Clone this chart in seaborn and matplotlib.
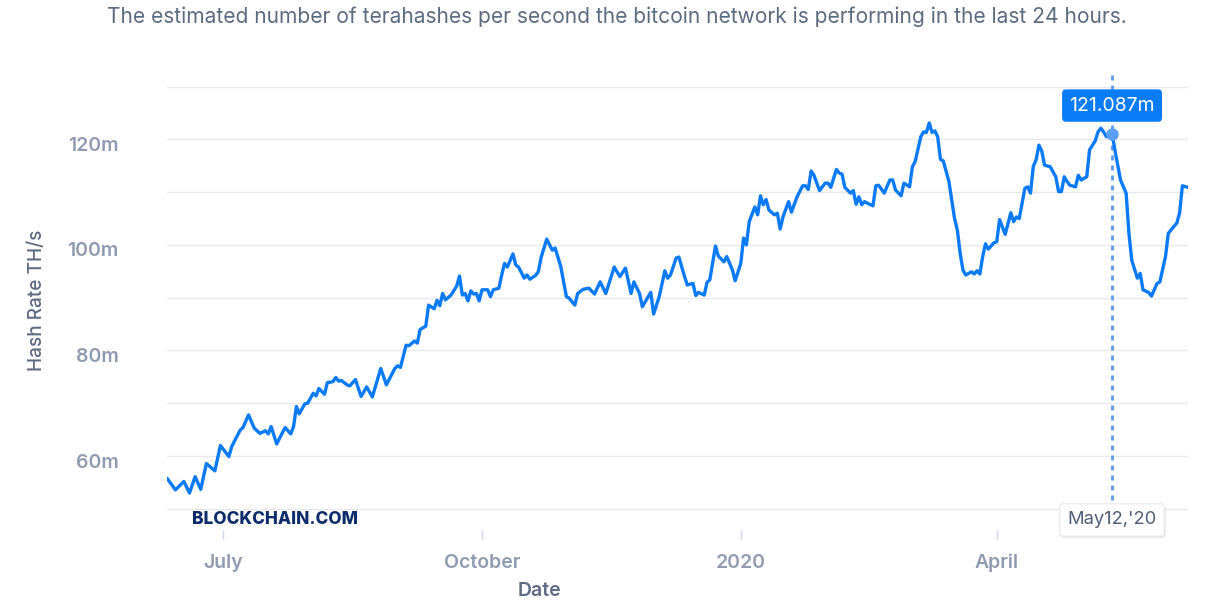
import pandas as pd
import matplotlib
matplotlib.use("Agg")
import matplotlib.pyplot as plt
import matplotlib.transforms as mtransforms
import matplotlib.patheffects as pe
import seaborn as sns

# daily hash rate readings (million TH/s)
dates = [
    "2019-06-11", "2019-06-14", "2019-06-17", "2019-06-19", "2019-06-21", "2019-06-23",
    "2019-06-25", "2019-06-28", "2019-06-30", "2019-07-03", "2019-07-04", "2019-07-07",
    "2019-07-08", "2019-07-10", "2019-07-12", "2019-07-14", "2019-07-16", "2019-07-17",
    "2019-07-18", "2019-07-20", "2019-07-22", "2019-07-23", "2019-07-25", "2019-07-26",
    "2019-07-27", "2019-07-28", "2019-07-30", "2019-07-31", "2019-08-02", "2019-08-03",
    "2019-08-04", "2019-08-06", "2019-08-07", "2019-08-09", "2019-08-10", "2019-08-11",
    "2019-08-12", "2019-08-14", "2019-08-15", "2019-08-17", "2019-08-19", "2019-08-21",
    "2019-08-23", "2019-08-26", "2019-08-28", "2019-08-31", "2019-09-01", "2019-09-02",
    "2019-09-04", "2019-09-05", "2019-09-07", "2019-09-08", "2019-09-09", "2019-09-11",
    "2019-09-12", "2019-09-14", "2019-09-15", "2019-09-16", "2019-09-17", "2019-09-18",
    "2019-09-20", "2019-09-22", "2019-09-23", "2019-09-24", "2019-09-25", "2019-09-26",
    "2019-09-27", "2019-09-28", "2019-09-29", "2019-09-30", "2019-10-01", "2019-10-03",
    "2019-10-04", "2019-10-05", "2019-10-07", "2019-10-08", "2019-10-09", "2019-10-10",
    "2019-10-12", "2019-10-13", "2019-10-14", "2019-10-16", "2019-10-17", "2019-10-18",
    "2019-10-20", "2019-10-21", "2019-10-22", "2019-10-24", "2019-10-26", "2019-10-27",
    "2019-10-29", "2019-10-31", "2019-11-01", "2019-11-03", "2019-11-04", "2019-11-06",
    "2019-11-08", "2019-11-10", "2019-11-12", "2019-11-14", "2019-11-17", "2019-11-19",
    "2019-11-21", "2019-11-23", "2019-11-24", "2019-11-26", "2019-11-27", "2019-11-30",
    "2019-12-01", "2019-12-03", "2019-12-05", "2019-12-06", "2019-12-07", "2019-12-09",
    "2019-12-10", "2019-12-12", "2019-12-13", "2019-12-15", "2019-12-16", "2019-12-17",
    "2019-12-19", "2019-12-20", "2019-12-21", "2019-12-23", "2019-12-24", "2019-12-26",
    "2019-12-27", "2019-12-29", "2019-12-30", "2020-01-01", "2020-01-02", "2020-01-03",
    "2020-01-04", "2020-01-06", "2020-01-07", "2020-01-08", "2020-01-09", "2020-01-10",
    "2020-01-11", "2020-01-13", "2020-01-14", "2020-01-15", "2020-01-16", "2020-01-18",
    "2020-01-19", "2020-01-21", "2020-01-23", "2020-01-24", "2020-01-25", "2020-01-26",
    "2020-01-27", "2020-01-29", "2020-01-31", "2020-02-01", "2020-02-02", "2020-02-04",
    "2020-02-05", "2020-02-06", "2020-02-07", "2020-02-09", "2020-02-10", "2020-02-11",
    "2020-02-12", "2020-02-13", "2020-02-14", "2020-02-15", "2020-02-17", "2020-02-18",
    "2020-02-19", "2020-02-21", "2020-02-23", "2020-02-24", "2020-02-25", "2020-02-27",
    "2020-02-28", "2020-03-01", "2020-03-02", "2020-03-03", "2020-03-05", "2020-03-06",
    "2020-03-07", "2020-03-08", "2020-03-09", "2020-03-10", "2020-03-11", "2020-03-12",
    "2020-03-13", "2020-03-15", "2020-03-17", "2020-03-18", "2020-03-19", "2020-03-20",
    "2020-03-21", "2020-03-23", "2020-03-24", "2020-03-25", "2020-03-26", "2020-03-27",
    "2020-03-28", "2020-03-29", "2020-03-31", "2020-04-01", "2020-04-02", "2020-04-04",
    "2020-04-06", "2020-04-07", "2020-04-08", "2020-04-09", "2020-04-11", "2020-04-12",
    "2020-04-13", "2020-04-14", "2020-04-15", "2020-04-16", "2020-04-17", "2020-04-18",
    "2020-04-20", "2020-04-22", "2020-04-23", "2020-04-24", "2020-04-25", "2020-04-26",
    "2020-04-27", "2020-04-29", "2020-04-30", "2020-05-01", "2020-05-03", "2020-05-04",
    "2020-05-06", "2020-05-07", "2020-05-08", "2020-05-09", "2020-05-10", "2020-05-12",
    "2020-05-13", "2020-05-15", "2020-05-17", "2020-05-18", "2020-05-19", "2020-05-21",
    "2020-05-22", "2020-05-23", "2020-05-25", "2020-05-26", "2020-05-28", "2020-05-29",
    "2020-05-31", "2020-06-01", "2020-06-03", "2020-06-04", "2020-06-05", "2020-06-06",
    "2020-06-08",
]
hash_rate = [
    55.8, 53.6, 55.2, 53.0, 56.1, 53.7,
    58.6, 57.2, 62.0, 59.9, 61.8, 64.9,
    65.4, 67.8, 65.3, 64.3, 64.8, 64.2,
    65.6, 62.3, 64.4, 65.4, 64.2, 65.6,
    69.4, 68.0, 69.9, 70.0, 71.9, 71.4,
    72.8, 71.7, 73.9, 74.1, 74.9, 74.2,
    74.3, 73.5, 73.3, 74.5, 71.3, 73.1,
    71.2, 76.6, 73.5, 76.6, 77.1, 76.8,
    81.0, 80.9, 81.8, 81.4, 84.0, 84.6,
    88.6, 87.9, 89.5, 88.5, 90.8, 89.6,
    90.5, 92.2, 94.1, 90.5, 90.8, 89.4,
    91.3, 90.7, 90.8, 89.4, 91.5, 91.5,
    90.2, 91.5, 91.8, 94.3, 96.5, 95.8,
    98.3, 96.2, 95.8, 93.7, 94.3, 93.5,
    94.2, 94.9, 97.6, 101.1, 99.0, 99.4,
    95.9, 90.2, 89.9, 88.6, 90.8, 91.6,
    91.8, 90.7, 93.0, 90.8, 95.8, 94.0,
    95.6, 90.8, 93.0, 90.8, 88.3, 91.0,
    86.9, 90.2, 95.1, 93.7, 94.3, 97.5,
    97.7, 94.0, 92.4, 92.7, 90.4, 91.0,
    90.5, 92.9, 93.4, 99.8, 97.9, 96.8,
    97.8, 95.3, 93.2, 96.5, 101.3, 100.0,
    104.4, 107.2, 105.7, 109.3, 107.6, 108.6,
    106.6, 105.7, 106.0, 103.0, 105.3, 108.2,
    106.2, 109.1, 111.2, 111.2, 110.5, 114.0,
    113.2, 110.3, 111.7, 111.7, 110.9, 114.3,
    113.6, 113.4, 110.9, 109.8, 110.3, 107.7,
    109.1, 107.6, 108.2, 107.9, 107.4, 111.2,
    111.3, 109.8, 112.3, 112.3, 110.4, 109.3,
    111.7, 111.0, 114.8, 115.8, 120.5, 121.4,
    121.3, 123.1, 121.3, 121.6, 120.5, 116.2,
    115.9, 112.0, 105.0, 102.8, 98.4, 95.2,
    94.3, 94.9, 94.5, 95.1, 94.5, 97.8,
    100.2, 99.2, 100.4, 100.6, 104.8, 102.0,
    106.1, 104.4, 105.3, 105.0, 110.7, 111.0,
    109.8, 114.9, 116.1, 118.9, 117.8, 115.1,
    114.8, 112.9, 110.1, 110.1, 112.9, 112.0,
    111.3, 111.0, 113.2, 112.3, 112.9, 118.0,
    119.7, 121.4, 122.1, 121.4, 120.5, 121.087,
    118.0, 112.3, 109.8, 102.2, 97.1, 93.7,
    94.6, 91.5, 91.0, 90.3, 92.7, 93.0,
    97.8, 102.2, 103.5, 104.1, 106.0, 111.2,
    110.9,
]

ytick_values = [50, 60, 70, 80, 90, 100, 110, 120, 130]
ytick_labels = ["", "60m", "", "80m", "", "100m", "", "120m", ""]
xtick_dates = ["2019-07-01", "2019-10-01", "2020-01-01", "2020-04-01"]
xtick_labels = ["July", "October", "2020", "April"]
hover_date = "2020-05-12"
hover_value = 121.087
hover_date_label = "May12,'20"

TITLE = ("The estimated number of terahashes per second the bitcoin network "
         "is performing in the last 24 hours.")
LINE_BLUE = "#0a7af5"


def main():
    sns.set_theme(style="white")
    plt.rcParams["font.family"] = ["Inter", "DejaVu Sans"]

    df = pd.DataFrame({"date": pd.to_datetime(dates), "hash_rate": hash_rate})
    hover_ts = pd.Timestamp(hover_date)

    W, H = 1225, 609
    fig = plt.figure(figsize=(W / 100, H / 100), dpi=100)
    left, right, top, bottom = 167, 1188, 72, 530
    ax = fig.add_axes([left / W, 1 - bottom / H, (right - left) / W, (bottom - top) / H])

    sns.lineplot(data=df, x="date", y="hash_rate", color=LINE_BLUE, linewidth=2.4, ax=ax)

    ax.set_xlim(df["date"].min(), df["date"].max())
    ax.set_ylim(46.0, 132.75)

    for s in ax.spines.values():
        s.set_visible(False)
    ax.set_axisbelow(True)
    ax.yaxis.grid(True, color="#e6e9ef", linewidth=1)
    ax.xaxis.grid(False)

    ax.set_yticks(ytick_values)
    ax.set_yticklabels(ytick_labels)
    ax.set_xticks(pd.to_datetime(xtick_dates))
    ax.set_xticklabels(xtick_labels)
    ax.tick_params(axis="y", left=False, length=0, pad=35, labelsize=14,
                   labelcolor="#8f9bb0")
    ax.tick_params(axis="x", bottom=True, length=6.5, width=1, color="#ccd6eb",
                   direction="out", pad=10.5, labelsize=14, labelcolor="#8f9bb0")
    for lbl in ax.get_yticklabels() + ax.get_xticklabels():
        lbl.set_fontweight("semibold")
    for lbl in ax.get_yticklabels():
        lbl.set_transform(lbl.get_transform() +
                          mtransforms.ScaledTranslation(0, -0.045, fig.dpi_scale_trans))

    ax.set_ylabel("Hash Rate TH/s", fontsize=13.7, color="#5e6b82", fontweight="medium")
    ax.set_xlabel("Date", fontsize=14, color="#5e6b82", fontweight="semibold")
    ax.yaxis.label.set_va("center")
    ax.xaxis.label.set_va("center")
    ax.yaxis.set_label_coords((37 - left) / (right - left), (bottom - 300) / (bottom - top))
    ax.xaxis.set_label_coords((539 - left) / (right - left), (bottom - 591) / (bottom - top))

    fig.text(616.5 / W, 1 - 17 / H, TITLE, ha="center", va="center",
             fontsize=15.1, color="#5b6b80")

    ax.text(0.0245, 0.024, "BLOCKCHAIN.COM", transform=ax.transAxes,
            ha="left", va="center", fontsize=12.4, fontweight="heavy", color="#0d2c6c")

    # hover crosshair, point and labels
    ax.axvline(hover_ts, color="#5b9df2", linewidth=2, linestyle=(0, (1.8, 1.8)), zorder=1)
    ax.plot([hover_ts], [hover_value], "o", ms=9, color="#5b9ef4", mew=0, zorder=5)
    ax.annotate(f"{hover_value:.3f}m", xy=(hover_ts, hover_value), xytext=(0, 28),
                textcoords="offset pixels", ha="center", va="center", fontsize=14,
                color="white",
                bbox=dict(boxstyle="round,pad=0.37,rounding_size=0.2", fc="#0a7cf6",
                          ec="none"),
                zorder=6)
    t = ax.text(hover_ts, 10 / (bottom - top), hover_date_label,
                transform=ax.get_xaxis_transform(), ha="center", va="center",
                fontsize=13.2, color="#4e5d78", clip_on=False, zorder=6,
                bbox=dict(boxstyle="round,pad=0.42,rounding_size=0.2", fc="white",
                          ec="#e3e6ec", lw=0.8))
    t.get_bbox_patch().set_path_effects(
        [pe.withSimplePatchShadow(offset=(1, -1.5), shadow_rgbFace="#000000", alpha=0.08)])

    fig.savefig("out.png", dpi=100, facecolor="white")


if __name__ == "__main__":
    main()
